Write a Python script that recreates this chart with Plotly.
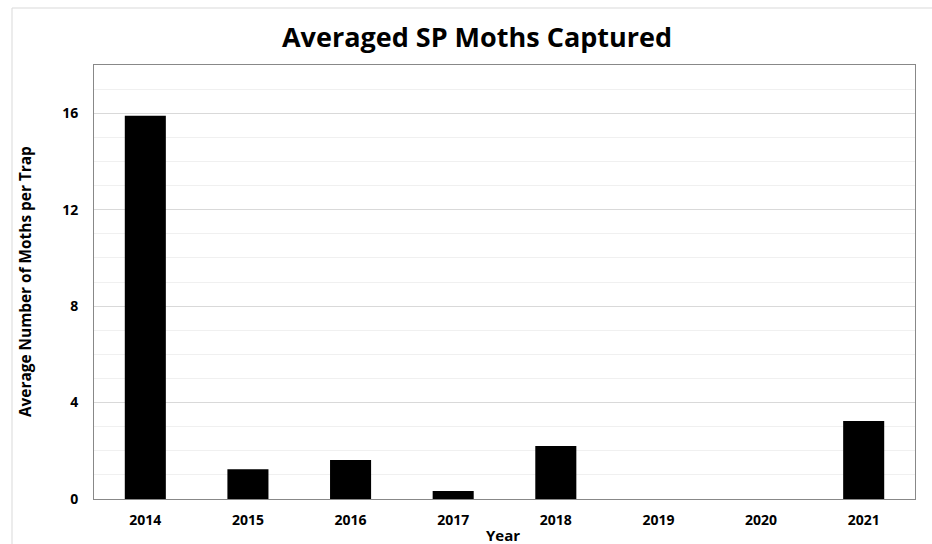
import plotly.graph_objects as go

years = ["2014", "2015", "2016", "2017", "2018", "2019", "2020", "2021"]
moths = [15.9, 1.23, 1.62, 0.33, 2.2, 0, 0, 3.24]
y_ticks = [0, 4, 8, 12, 16]

FONT = "Open Sans"

fig = go.Figure(go.Bar(
    x=years, y=moths,
    marker=dict(color="black", line=dict(width=0)),
))

L, R, T, B = 94, 17, 65, 45
W, H = 932, 544
pw, ph = W - L - R, H - T - B

def px_x(p):
    return (p - L) / pw

def px_y(p):
    return (H - B - p) / ph

fig.update_layout(
    width=W, height=H,
    margin=dict(l=L, r=R, t=T, b=B),
    paper_bgcolor="white", plot_bgcolor="white",
    bargap=0.6,
    showlegend=False,
    font=dict(family=FONT, color="black"),
    title=dict(text="<b>Averaged SP Moths Captured</b>", x=477 / W, xanchor="center",
               y=1 - 38 / H, yanchor="middle", yref="container",
               font=dict(size=27, family=FONT, color="black")),
    xaxis=dict(showline=True, mirror=True, linecolor="#888888", linewidth=1,
               ticks="", tickfont=dict(size=14, family=FONT, color="black"),
               tickprefix="<b>", ticksuffix="</b>", ticklabelstandoff=8),
    yaxis=dict(range=[0, 18], tickvals=y_ticks, ticktext=[f"<b>{v}</b>" for v in y_ticks],
               showline=True, mirror=True, linecolor="#888888", linewidth=1,
               showgrid=True, gridcolor="#d9d9d9", gridwidth=1,
               minor=dict(dtick=1, showgrid=True, gridcolor="#f0f0f0", gridwidth=1),
               zeroline=False, ticks="", ticklabelstandoff=12,
               tickfont=dict(size=14, family=FONT, color="black")),
    annotations=[
        dict(text="<b>Year</b>", x=px_x(503), y=px_y(535), xref="paper", yref="paper",
             showarrow=False, font=dict(size=15, family=FONT, color="black"),
             xanchor="center", yanchor="middle"),
        dict(text="<b>Average Number of Moths per Trap</b>", x=px_x(25), y=px_y(282),
             xref="paper", yref="paper", textangle=-90, showarrow=False,
             font=dict(size=15.4, family=FONT, color="black"),
             xanchor="center", yanchor="middle"),
    ],
    shapes=[
        dict(type="line", xref="paper", yref="paper", x0=px_x(12), x1=px_x(12),
             y0=px_y(544), y1=px_y(8), line=dict(color="#d9d9d9", width=1)),
        dict(type="line", xref="paper", yref="paper", x0=px_x(12), x1=px_x(932),
             y0=px_y(8), y1=px_y(8), line=dict(color="#d9d9d9", width=1)),
    ],
)

fig.write_html("out.html", config={"displayModeBar": False},
               post_script="document.body.style.margin='0px';")
